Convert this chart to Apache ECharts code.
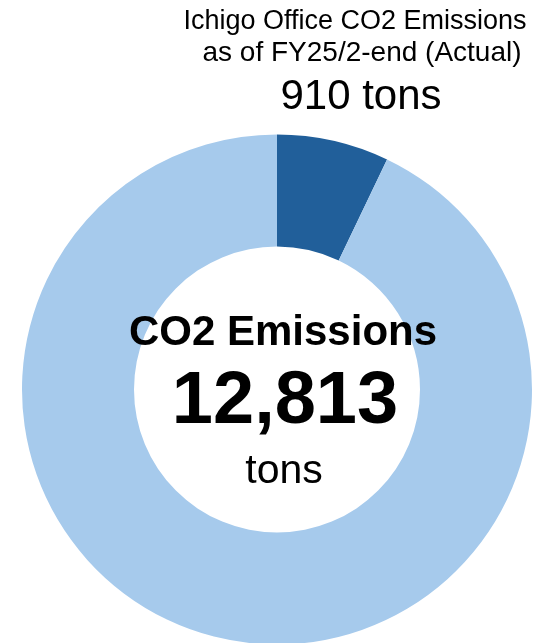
<!DOCTYPE html>
<html>
<head>
<meta charset="utf-8">
<script src="https://cdn.jsdelivr.net/npm/echarts@6/dist/echarts.min.js"></script>
<style>
  html, body { margin: 0; padding: 0; background: #ffffff; }
  #chart { width: 543px; height: 643px; }
</style>
</head>
<body>
<div id="chart"></div>
<script>
// Emission breakdown (tons of CO2)
const segmentNames = ['Ichigo Office', 'Other'];
const segmentValues = [910, 11903];
const segmentColors = ['#215F9A', '#A6CAEC'];

const officeTitle = ['Ichigo Office CO2 Emissions', 'as of FY25/2-end (Actual)'];
const centerTitle = 'CO2 Emissions';
const unit = 'tons';

const total = segmentValues.reduce((a, b) => a + b, 0);
const fmt = v => v.toLocaleString('en-US');
const font = 'Arial, "Liberation Sans", sans-serif';

const chart = echarts.init(document.getElementById('chart'), null, { renderer: 'canvas' });

function label(x, y, text, css) {
  return {
    type: 'text', x: x, y: y, z: 100,
    style: { text: text, font: css + ' ' + font, fill: '#000', align: 'center', verticalAlign: 'middle' }
  };
}

chart.setOption({
  backgroundColor: '#ffffff',
  animation: false,
  series: [{
    type: 'pie',
    center: [277, 389.5],
    radius: [143, 255],
    startAngle: 90,
    clockwise: true,
    silent: true,
    z: 2,
    label: { show: false },
    labelLine: { show: false },
    itemStyle: { borderWidth: 0 },
    data: segmentNames.map((n, i) => ({
      name: n,
      value: segmentValues[i],
      itemStyle: { color: segmentColors[i] }
    }))
  }],
  graphic: [
    label(355, 22, officeTitle[0], '27px'),
    label(362, 53, officeTitle[1], '28px'),
    label(361, 97, fmt(segmentValues[0]) + ' ' + unit, '42px'),
    label(283, 333, centerTitle, 'bold 42px'),
    label(285, 403, fmt(total), 'bold 74px'),
    label(284, 472, unit, '41px')
  ]
});
</script>
</body>
</html>
